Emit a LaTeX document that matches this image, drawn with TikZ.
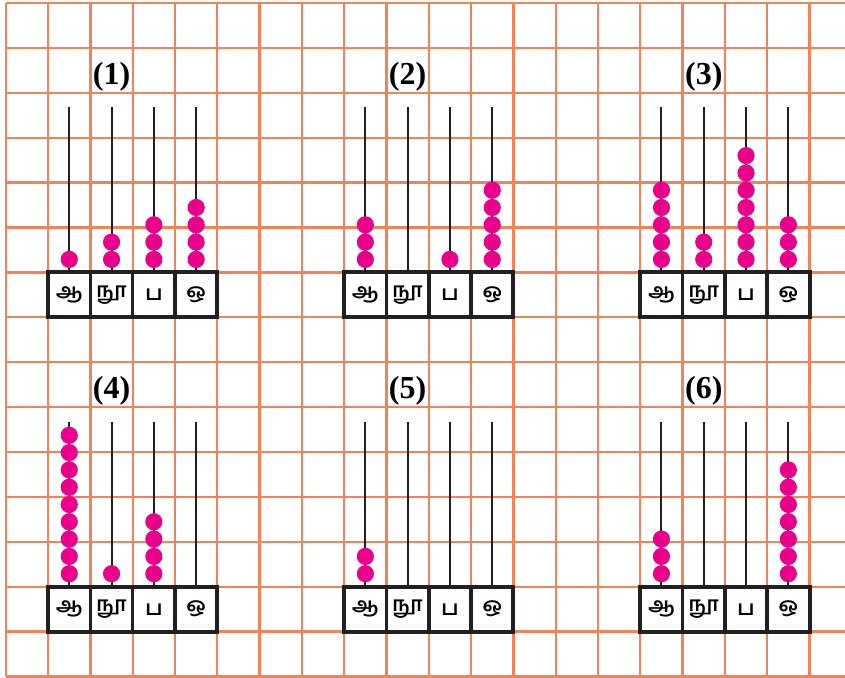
\documentclass[tikz,border=0pt]{standalone}
\usepackage{fontspec}
\setmainfont{Liberation Serif}
\newfontfamily\tamilfont[Script=Tamil]{Hind Madurai}
\definecolor{gridorange}{RGB}{243,130,86}
\definecolor{beadpink}{RGB}{233,0,139}
\definecolor{rodblack}{RGB}{35,31,32}

\begin{document}
\begin{tikzpicture}[x=1pt, y=-1pt,
    gridline/.style={draw=gridorange, line width=2.3pt},
    rod/.style={draw=rodblack, line width=2pt},
    bead/.style={fill=beadpink},
    framebox/.style={draw=rodblack, line width=4pt, fill=white},
    divider/.style={draw=rodblack, line width=3.5pt},
    numtitle/.style={font=\bfseries\fontsize{32}{32}\selectfont, inner sep=0pt},
    placeval/.style={font=\tamilfont\bfseries\fontsize{20.5}{20.5}\selectfont, inner sep=0pt}
]
\useasboundingbox (0,0) rectangle (845,677);
\fill[white] (0,0) rectangle (845,677);

% squared paper
\foreach \i in {0,...,19}
    \draw[gridline] (5.8+42.3*\i,3) -- (5.8+42.3*\i,676);
\foreach \j in {0,...,15}
    \draw[gridline] (5.8,3+44.9*\j) -- (845,3+44.9*\j);

% the six abaci: column/row/number/beads on each rod
\foreach \c/\r/\n/\na/\nb/\nc/\nd in {1/6/1/1/2/3/4, 8/6/2/3/0/1/5, 15/6/3/5/2/7/3,
                                       1/13/4/9/1/4/0, 8/13/5/2/0/0/0, 15/13/6/3/0/0/7}{
    \pgfmathsetmacro{\xl}{5.8+42.3*\c}
    \pgfmathsetmacro{\yt}{3+44.9*\r}
    \node[numtitle] (title-\n) at (\xl+42.3*1.5,\yt-196) {(\n)};
    \foreach \k/\m in {0/\na, 1/\nb, 2/\nc, 3/\nd}{
        \draw[rod] (\xl+42.3*\k+21.15,\yt-165) -- (\xl+42.3*\k+21.15,\yt);
        \foreach \s in {1,...,9}{
            \ifnum\s>\m\else
                \fill[bead] (\xl+42.3*\k+21.15,\yt-13-17.3*\s+17.3) circle[radius=8.6pt];
            \fi
        }
    }
    \draw[framebox] (\xl,\yt) rectangle (\xl+42.3*4,\yt+44.9);
    \foreach \k in {1,2,3}
        \draw[divider] (\xl+42.3*\k,\yt) -- (\xl+42.3*\k,\yt+44.9);
    \foreach \k/\t in {0/ஆ, 1/நூ, 2/ப, 3/ஒ}
        \node[placeval] (place-\n-\k) at (\xl+42.3*\k+21.15,\yt+22.5) {\t};
}
\end{tikzpicture}
\end{document}
